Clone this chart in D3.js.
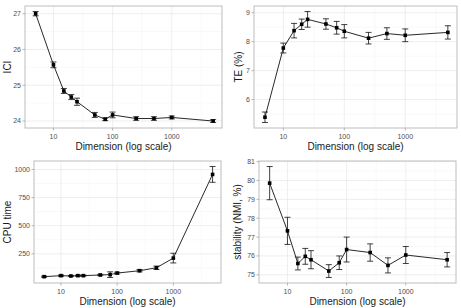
<!DOCTYPE html>
<html>
<head>
<meta charset="utf-8">
<script src="https://cdn.jsdelivr.net/npm/d3@7/dist/d3.min.js"></script>
<style>
  body { margin: 0; background: #fff; }
  svg { display: block; font-family: "Liberation Sans", Arial, sans-serif; }
  .tick-lab { fill: #4d4d4d; font-size: 7px; }
  .ax-title { fill: #1a1a1a; font-size: 10px; }
</style>
</head>
<body>
<svg id="chart" width="461" height="308"></svg>
<script>
const dims = [5, 10, 15, 20, 25, 50, 75, 100, 250, 500, 1000, 5000];

const iciMean = [27.0, 25.57, 24.84, 24.67, 24.54, 24.17, 24.05, 24.17, 24.07, 24.07, 24.1, 24.0];
const iciErr  = [0.06, 0.08, 0.07, 0.07, 0.1, 0.07, 0.04, 0.08, 0.05, 0.05, 0.04, 0.04];

const teMean = [5.39, 7.78, 8.38, 8.6, 8.77, 8.61, 8.48, 8.36, 8.12, 8.28, 8.22, 8.32];
const teErr  = [0.18, 0.17, 0.25, 0.18, 0.27, 0.18, 0.22, 0.23, 0.2, 0.2, 0.22, 0.23];

const cpuMean = [47, 56, 53, 56, 56, 62, 65, 79, 100, 126, 212, 956];
const cpuErr  = [5, 6, 5, 5, 5, 6, 25, 8, 10, 15, 43, 70];

const stabMean = [79.86, 77.33, 75.6, 75.98, 75.8, 75.2, 75.64, 76.34, 76.18, 75.5, 76.05, 75.8];
const stabErr  = [0.88, 0.72, 0.34, 0.42, 0.48, 0.34, 0.36, 0.66, 0.46, 0.4, 0.45, 0.38];

const xTicks = [10, 100, 1000];

const panels = [
  { mean: iciMean, err: iciErr, yTicks: [24, 25, 26, 27], yLabel: "ICI",
    x0: 25, x1: 222, y0: 6, y1: 128, titleX: 7 },
  { mean: teMean, err: teErr, yTicks: [6, 7, 8, 9], yLabel: "TE (%)",
    x0: 254, x1: 457, y0: 6, y1: 128, titleX: 238 },
  { mean: cpuMean, err: cpuErr, yTicks: [250, 500, 750, 1000], yLabel: "CPU time",
    x0: 34, x1: 221, y0: 161, y1: 283, titleX: 7 },
  { mean: stabMean, err: stabErr, yTicks: [75, 76, 77, 78, 79, 80, 81], yLabel: "stability (NMI, %)",
    x0: 259, x1: 456, y0: 161, y1: 283, titleX: 237 }
];

const svg = d3.select("#chart");

function expand(lo, hi, f) {
  const d = (hi - lo) * f;
  return [lo - d, hi + d];
}

panels.forEach(p => {
  const lx = expand(Math.log10(d3.min(dims)), Math.log10(d3.max(dims)), 0.05);
  const x = d3.scaleLog().domain([Math.pow(10, lx[0] - 0.03), Math.pow(10, lx[1])]).range([p.x0, p.x1]);
  const lo = d3.min(p.mean.map((m, i) => m - p.err[i]));
  const hi = d3.max(p.mean.map((m, i) => m + p.err[i]));
  const y = d3.scaleLinear().domain(expand(lo, hi, 0.05)).range([p.y1, p.y0]);

  const g = svg.append("g");

  // minor grid
  const ly = y.domain();
  const step = p.yTicks[1] - p.yTicks[0];
  const yMinor = [];
  for (let v = p.yTicks[0] - step / 2; v <= ly[1]; v += step) {
    if (v >= ly[0]) yMinor.push(v);
  }
  const xMinor = [Math.pow(10, 0.5), Math.pow(10, 1.5), Math.pow(10, 2.5), Math.pow(10, 3.5)];

  g.selectAll(".ygm").data(yMinor).enter().append("line")
    .attr("x1", p.x0).attr("x2", p.x1)
    .attr("y1", d => y(d)).attr("y2", d => y(d))
    .attr("stroke", "#f2f2f2").attr("stroke-width", 0.5);
  g.selectAll(".xgm").data(xMinor.filter(v => x(v) > p.x0 && x(v) < p.x1)).enter().append("line")
    .attr("y1", p.y0).attr("y2", p.y1)
    .attr("x1", d => x(d)).attr("x2", d => x(d))
    .attr("stroke", "#f2f2f2").attr("stroke-width", 0.5);

  // major grid
  g.selectAll(".yg").data(p.yTicks).enter().append("line")
    .attr("x1", p.x0).attr("x2", p.x1)
    .attr("y1", d => y(d)).attr("y2", d => y(d))
    .attr("stroke", "#e6e6e6").attr("stroke-width", 0.7);
  g.selectAll(".xg").data(xTicks).enter().append("line")
    .attr("y1", p.y0).attr("y2", p.y1)
    .attr("x1", d => x(d)).attr("x2", d => x(d))
    .attr("stroke", "#e6e6e6").attr("stroke-width", 0.7);

  // border
  g.append("rect")
    .attr("x", p.x0).attr("y", p.y0)
    .attr("width", p.x1 - p.x0).attr("height", p.y1 - p.y0)
    .attr("fill", "none").attr("stroke", "#bdbdbd").attr("stroke-width", 1);

  // ticks
  g.selectAll(".yt").data(p.yTicks).enter().append("line")
    .attr("x1", p.x0 - 2.5).attr("x2", p.x0)
    .attr("y1", d => y(d)).attr("y2", d => y(d))
    .attr("stroke", "#999").attr("stroke-width", 0.7);
  g.selectAll(".ytl").data(p.yTicks).enter().append("text")
    .attr("class", "tick-lab")
    .attr("x", p.x0 - 4).attr("y", d => y(d))
    .attr("dy", "0.35em").attr("text-anchor", "end")
    .text(d => d);
  g.selectAll(".xt").data(xTicks).enter().append("line")
    .attr("y1", p.y1).attr("y2", p.y1 + 2.5)
    .attr("x1", d => x(d)).attr("x2", d => x(d))
    .attr("stroke", "#999").attr("stroke-width", 0.7);
  g.selectAll(".xtl").data(xTicks).enter().append("text")
    .attr("class", "tick-lab")
    .attr("x", d => x(d)).attr("y", p.y1 + 9)
    .attr("dy", "0.35em").attr("text-anchor", "middle")
    .text(d => d);

  // titles
  g.append("text").attr("class", "ax-title")
    .attr("x", (p.x0 + p.x1) / 2).attr("y", p.y1 + 18.5)
    .attr("dy", "0.35em").attr("text-anchor", "middle")
    .text("Dimension (log scale)");
  g.append("text").attr("class", "ax-title")
    .attr("transform", `translate(${p.titleX},${(p.y0 + p.y1) / 2}) rotate(-90)`)
    .attr("dy", "0.35em").attr("text-anchor", "middle")
    .text(p.yLabel);

  // data
  const pts = dims.map((d, i) => ({ d: d, m: p.mean[i], e: p.err[i] }));
  const cap = 3;
  const eb = g.append("g").attr("stroke", "#111").attr("stroke-width", 0.8);
  pts.forEach(o => {
    const cx = x(o.d);
    eb.append("line").attr("x1", cx).attr("x2", cx).attr("y1", y(o.m - o.e)).attr("y2", y(o.m + o.e));
    eb.append("line").attr("x1", cx - cap).attr("x2", cx + cap).attr("y1", y(o.m - o.e)).attr("y2", y(o.m - o.e));
    eb.append("line").attr("x1", cx - cap).attr("x2", cx + cap).attr("y1", y(o.m + o.e)).attr("y2", y(o.m + o.e));
  });

  g.append("path").datum(pts)
    .attr("fill", "none").attr("stroke", "#111").attr("stroke-width", 0.9)
    .attr("d", d3.line().x(o => x(o.d)).y(o => y(o.m)));

  g.selectAll(".pt").data(pts).enter().append("rect")
    .attr("x", o => x(o.d) - 1.8).attr("y", o => y(o.m) - 1.8)
    .attr("width", 3.6).attr("height", 3.6)
    .attr("fill", "#000");
});
</script>
</body>
</html>
